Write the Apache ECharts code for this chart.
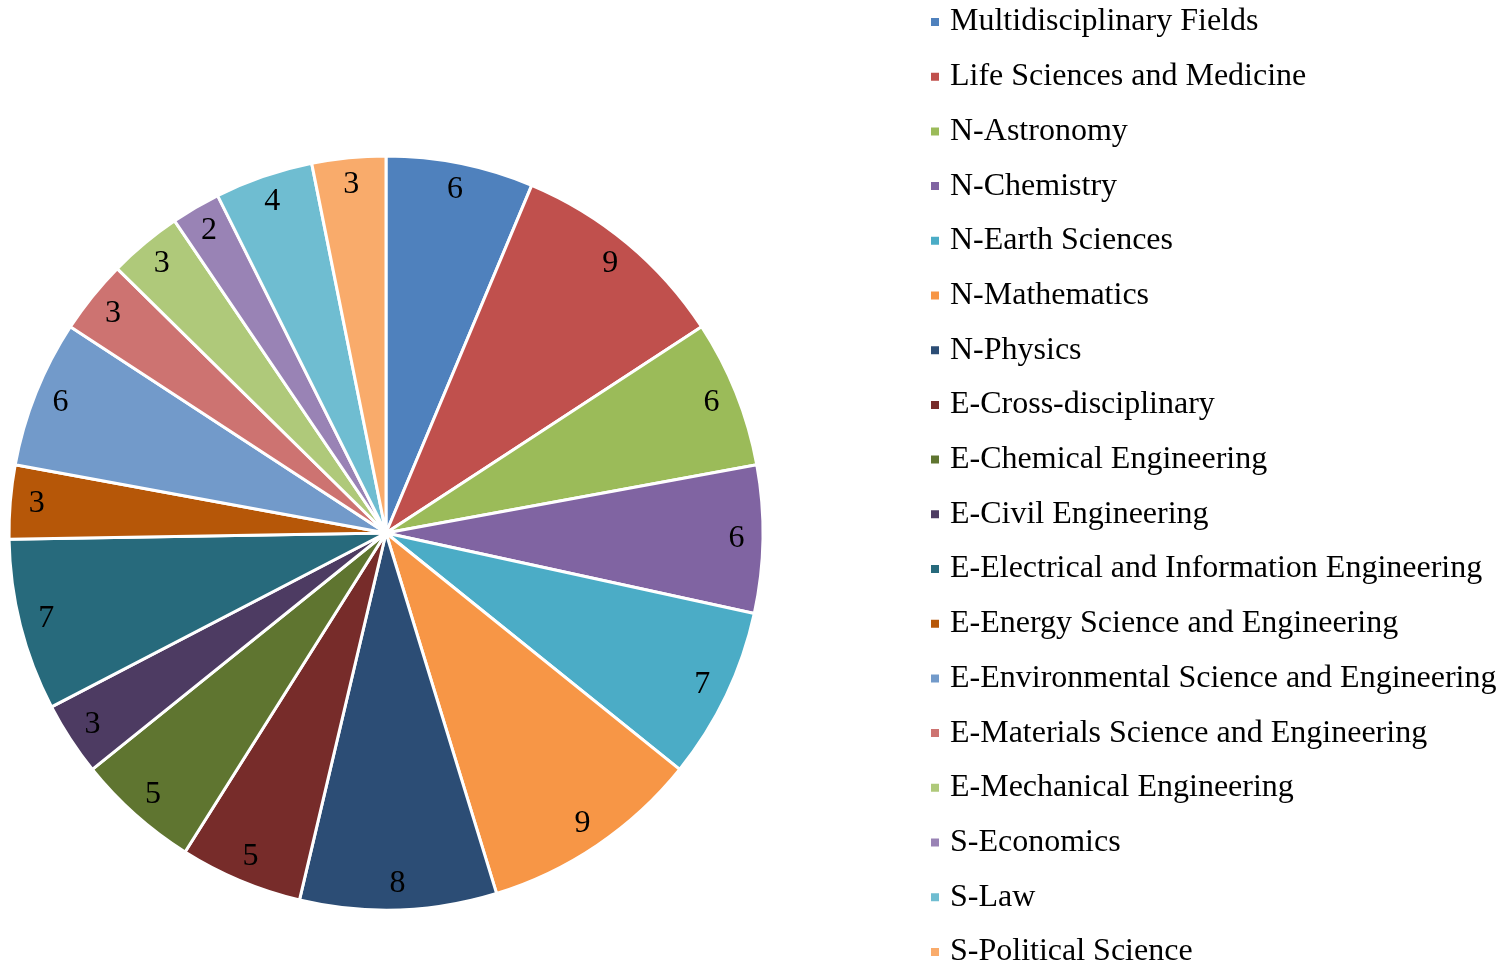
<!DOCTYPE html>
<html>
<head>
<meta charset="utf-8">
<script src="https://cdn.jsdelivr.net/npm/echarts@6/dist/echarts.min.js"></script>
<style>
  html, body { margin: 0; padding: 0; background: #fff; }
  #chart { width: 1509px; height: 964px; }
</style>
</head>
<body>
<div id="chart"></div>
<script>
'use strict';

var categories = [
    'Multidisciplinary Fields',
    'Life Sciences and Medicine',
    'N-Astronomy',
    'N-Chemistry',
    'N-Earth Sciences',
    'N-Mathematics',
    'N-Physics',
    'E-Cross-disciplinary',
    'E-Chemical Engineering',
    'E-Civil Engineering',
    'E-Electrical and Information Engineering',
    'E-Energy Science and Engineering',
    'E-Environmental Science and Engineering',
    'E-Materials Science and Engineering',
    'E-Mechanical Engineering',
    'S-Economics',
    'S-Law',
    'S-Political Science'
];
var counts = [6, 9, 6, 6, 7, 9, 8, 5, 5, 3, 7, 3, 6, 3, 3, 2, 4, 3];
var colors = [
    '#4F81BD', '#C0504D', '#9BBB59', '#8064A2', '#4BACC6', '#F79646',
    '#2C4D75', '#772C2A', '#5F7530', '#4D3B62', '#276A7C', '#B65708',
    '#729ACA', '#CD7371', '#AFC97A', '#9983B5', '#6FBDD1', '#F9AB6B'
];

var serif = '"Liberation Serif", "DejaVu Serif", serif';
var cx = 386, cy = 533, r = 377;
var rowStep = 54.7;

function pieData() {
    var data = [];
    for (var i = 0; i < categories.length; i++) {
        data.push({ name: categories[i], value: counts[i] });
    }
    return data;
}

var chart = echarts.init(document.getElementById('chart'));
var option = {
    animation: false,
    color: colors,
    legend: {
        orient: 'vertical',
        left: 929,
        top: 6,
        // the last row runs slightly past the bottom edge, as in the original
        height: 1000,
        padding: 0,
        icon: 'rect',
        itemWidth: 10,
        itemHeight: 10,
        itemGap: rowStep - 32,
        data: categories,
        textStyle: {
            fontFamily: serif,
            fontSize: 32,
            lineHeight: 32,
            color: '#000',
            padding: [0, 0, 0, 5]
        }
    },
    series: [{
        name: 'main',
        type: 'pie',
        center: [cx, cy],
        radius: [0, r],
        startAngle: 90,
        clockwise: true,
        itemStyle: { borderColor: '#fff', borderWidth: 3 },
        label: { show: false },
        labelLine: { show: false },
        emphasis: { disabled: true },
        data: pieData()
    }, {
        // transparent ring, only used to place the value labels near the rim
        name: 'labels',
        type: 'pie',
        center: [cx, cy],
        radius: [318, r],
        startAngle: 90,
        clockwise: true,
        silent: true,
        legendHoverLink: false,
        itemStyle: { color: 'rgba(0,0,0,0)', borderWidth: 0 },
        label: {
            show: true,
            position: 'inside',
            formatter: '{c}',
            fontFamily: serif,
            fontSize: 32,
            color: '#000'
        },
        labelLine: { show: false },
        emphasis: { disabled: true },
        data: pieData()
    }]
};
chart.setOption(option);
</script>
</body>
</html>
